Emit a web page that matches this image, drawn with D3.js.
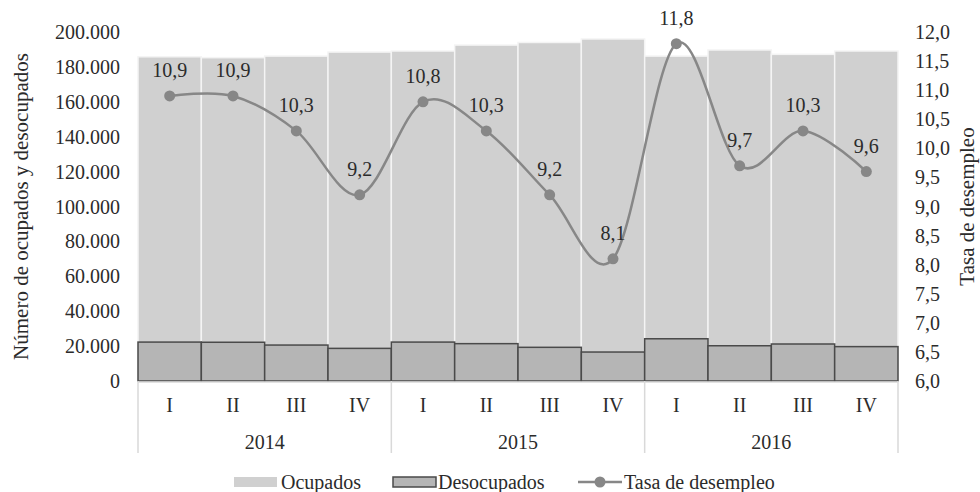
<!DOCTYPE html>
<html lang="es">
<head>
<meta charset="utf-8">
<title>Ocupados, desocupados y tasa de desempleo</title>
<style>
  body { margin: 0; background: #fff; }
  svg text { font-family: "Liberation Serif", "DejaVu Serif", serif; fill: #2b2b2b; }
</style>
<script src="https://cdn.jsdelivr.net/npm/d3@7"></script>
</head>
<body>
<div id="chart"></div>
<script>
// data
var quarters = ["I", "II", "III", "IV", "I", "II", "III", "IV", "I", "II", "III", "IV"];
var years = ["2014", "2015", "2016"];
var ocupados = [185800, 185300, 186200, 188500, 189100, 192500, 194000, 196000, 186200, 189700, 187200, 189100];
var desocupados = [22300, 22200, 20600, 18700, 22300, 21400, 19300, 16600, 24200, 20200, 21200, 19700];
var tasa = [10.9, 10.9, 10.3, 9.2, 10.8, 10.3, 9.2, 8.1, 11.8, 9.7, 10.3, 9.6];
var leftTicks = [0, 20000, 40000, 60000, 80000, 100000, 120000, 140000, 160000, 180000, 200000];
var rightTicks = [6, 6.5, 7, 7.5, 8, 8.5, 9, 9.5, 10, 10.5, 11, 11.5, 12];

var W = 980, H = 492;
var plotLeft = 138, plotRight = 898, plotTop = 32, plotBottom = 381;
var fs = 20;
var titleFs = 21;

var svg = d3.select("#chart").append("svg")
  .attr("width", W).attr("height", H);

var x = d3.scaleBand().domain(d3.range(quarters.length)).range([plotLeft, plotRight]).padding(0);
var y = d3.scaleLinear().domain([0, 200000]).range([plotBottom, plotTop]);
var y2 = d3.scaleLinear().domain([6, 12]).range([plotBottom, plotTop]);

var fmtThousands = d3.formatLocale({decimal: ",", thousands: ".", grouping: [3], currency: ["", ""]}).format(",.0f");
var fmtOne = function(v) { return d3.format(".1f")(v).replace(".", ","); };

// ocupados bars
svg.append("g").selectAll("rect")
  .data(ocupados)
  .join("rect")
  .attr("x", function(d, i) { return x(i); })
  .attr("y", function(d) { return y(d); })
  .attr("width", x.bandwidth())
  .attr("height", function(d) { return y(0) - y(d); })
  .attr("fill", "#d0d0d0")
  .attr("stroke", "#f4f4f4")
  .attr("stroke-width", 1.5);

// desocupados bars (overlapped)
svg.append("g").selectAll("rect")
  .data(desocupados)
  .join("rect")
  .attr("x", function(d, i) { return x(i); })
  .attr("y", function(d) { return y(d); })
  .attr("width", x.bandwidth())
  .attr("height", function(d) { return y(0) - y(d); })
  .attr("fill", "#b5b5b5")
  .attr("stroke", "#4a4a4a")
  .attr("stroke-width", 1.5);

// category axis
svg.append("line")
  .attr("x1", plotLeft).attr("x2", plotRight)
  .attr("y1", plotBottom + 1).attr("y2", plotBottom + 1)
  .attr("stroke", "#d9d9d9").attr("stroke-width", 1.5);

var yearEdges = [0, 4, 8, 12];
svg.append("g").selectAll("line")
  .data(yearEdges)
  .join("line")
  .attr("x1", function(d) { return d < 12 ? x(d) : plotRight; })
  .attr("x2", function(d) { return d < 12 ? x(d) : plotRight; })
  .attr("y1", plotBottom)
  .attr("y2", 453)
  .attr("stroke", "#d9d9d9")
  .attr("stroke-width", 1.5);

svg.append("g").selectAll("text")
  .data(quarters)
  .join("text")
  .attr("x", function(d, i) { return x(i) + x.bandwidth() / 2; })
  .attr("y", 405)
  .attr("dy", "0.35em")
  .attr("text-anchor", "middle")
  .attr("font-size", fs)
  .text(function(d) { return d; });

svg.append("g").selectAll("text")
  .data(years)
  .join("text")
  .attr("x", function(d, i) { return x(i * 4) + x.bandwidth() * 2; })
  .attr("y", 442)
  .attr("dy", "0.35em")
  .attr("text-anchor", "middle")
  .attr("font-size", fs)
  .text(function(d) { return d; });

// left axis
svg.append("g").selectAll("text")
  .data(leftTicks)
  .join("text")
  .attr("x", 120)
  .attr("y", function(d) { return y(d); })
  .attr("dy", "0.35em")
  .attr("text-anchor", "end")
  .attr("font-size", fs)
  .text(function(d) { return fmtThousands(d); });

// right axis
svg.append("g").selectAll("text")
  .data(rightTicks)
  .join("text")
  .attr("x", 915)
  .attr("y", function(d) { return y2(d); })
  .attr("dy", "0.35em")
  .attr("text-anchor", "start")
  .attr("font-size", fs)
  .text(function(d) { return fmtOne(d); });

// axis titles
svg.append("text")
  .attr("transform", "translate(28," + ((plotTop + plotBottom) / 2) + ") rotate(-90)")
  .attr("text-anchor", "middle")
  .attr("font-size", titleFs)
  .text("Número de ocupados y desocupados");

svg.append("text")
  .attr("transform", "translate(974," + ((plotTop + plotBottom) / 2) + ") rotate(-90)")
  .attr("text-anchor", "middle")
  .attr("font-size", titleFs)
  .text("Tasa de desempleo");

// unemployment line
var line = d3.line()
  .x(function(d, i) { return x(i) + x.bandwidth() / 2; })
  .y(function(d) { return y2(d); })
  .curve(d3.curveCardinal.tension(0));

svg.append("path")
  .datum(tasa)
  .attr("d", line)
  .attr("fill", "none")
  .attr("stroke", "#878787")
  .attr("stroke-width", 2.5);

svg.append("g").selectAll("circle")
  .data(tasa)
  .join("circle")
  .attr("cx", function(d, i) { return x(i) + x.bandwidth() / 2; })
  .attr("cy", function(d) { return y2(d); })
  .attr("r", 5.5)
  .attr("fill", "#878787");

svg.append("g").selectAll("text")
  .data(tasa)
  .join("text")
  .attr("x", function(d, i) { return x(i) + x.bandwidth() / 2; })
  .attr("y", function(d) { return y2(d) - 26; })
  .attr("dy", "0.35em")
  .attr("text-anchor", "middle")
  .attr("font-size", fs)
  .text(function(d) { return fmtOne(d); });

// legend
var ly = 482;
var legend = svg.append("g");
legend.append("rect")
  .attr("x", 234).attr("y", ly - 5).attr("width", 43).attr("height", 10)
  .attr("fill", "#d0d0d0");
legend.append("text")
  .attr("x", 281).attr("y", ly).attr("dy", "0.35em")
  .attr("font-size", fs).text("Ocupados");
legend.append("rect")
  .attr("x", 393).attr("y", ly - 5).attr("width", 43).attr("height", 10)
  .attr("fill", "#b5b5b5").attr("stroke", "#4a4a4a").attr("stroke-width", 1.5);
legend.append("text")
  .attr("x", 438).attr("y", ly).attr("dy", "0.35em")
  .attr("font-size", fs).text("Desocupados");
legend.append("line")
  .attr("x1", 578).attr("x2", 622).attr("y1", ly).attr("y2", ly)
  .attr("stroke", "#878787").attr("stroke-width", 2.5);
legend.append("circle")
  .attr("cx", 600).attr("cy", ly).attr("r", 5.5).attr("fill", "#878787");
legend.append("text")
  .attr("x", 624).attr("y", ly).attr("dy", "0.35em")
  .attr("font-size", fs).text("Tasa de desempleo");
</script>
</body>
</html>
